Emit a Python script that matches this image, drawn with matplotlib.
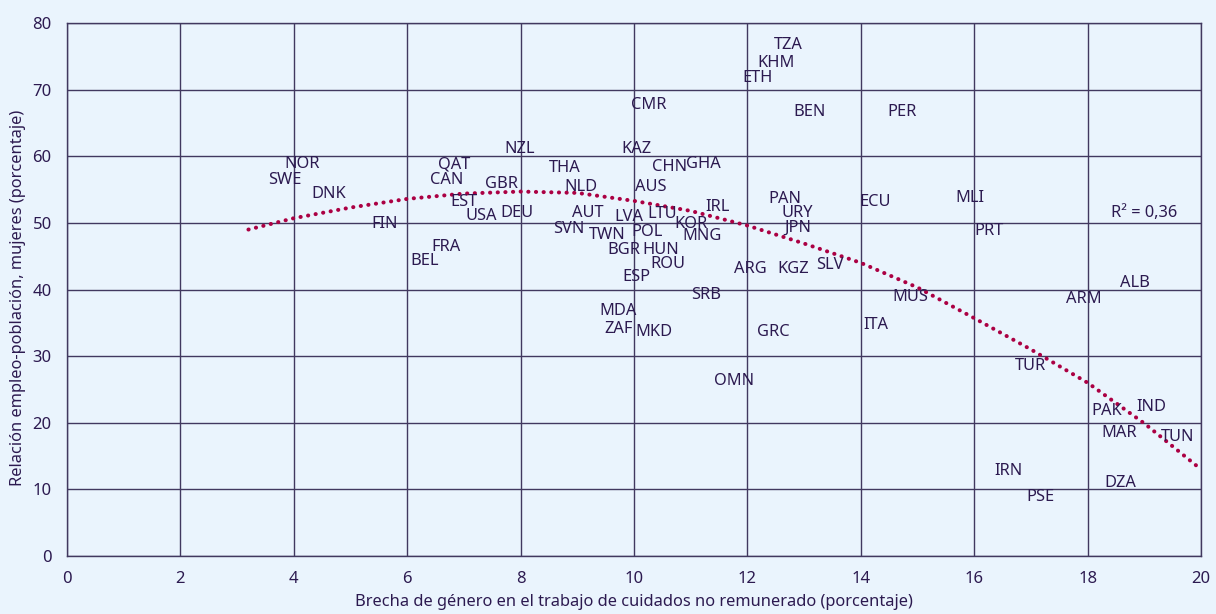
import matplotlib.pyplot as plt

plt.rcParams['font.family'] = ['Noto Sans', 'DejaVu Sans']

# country codes with unpaid care gap (x) and female employment-to-population ratio (y)
countries = ["NOR", "SWE", "DNK", "FIN", "QAT", "CAN", "EST", "USA", "GBR", "DEU",
             "FRA", "BEL", "NZL", "THA", "NLD", "AUT", "SVN", "TWN", "LVA", "LTU",
             "POL", "BGR", "HUN", "ROU", "ESP", "KAZ", "CMR", "CHN", "GHA", "AUS",
             "KOR", "MNG", "IRL", "TZA", "KHM", "ETH", "BEN", "PER", "PAN", "URY",
             "JPN", "ARG", "KGZ", "SLV", "SRB", "MDA", "ZAF", "MKD", "GRC", "OMN",
             "ECU", "MLI", "PRT", "MUS", "ITA", "ALB", "ARM", "TUR", "PAK", "IND",
             "MAR", "TUN", "IRN", "PSE", "DZA"]
gap = [4.14, 3.84, 4.62, 5.61, 6.83, 6.70, 7.00, 7.30, 7.67, 7.94,
       6.68, 6.31, 7.99, 8.78, 9.07, 9.19, 8.85, 9.52, 9.91, 10.49,
       10.23, 9.82, 10.48, 10.60, 10.05, 10.04, 10.26, 10.62, 11.23, 10.30,
       11.01, 11.20, 11.48, 12.72, 12.50, 12.17, 13.09, 14.73, 12.66, 12.87,
       12.89, 12.05, 12.80, 13.46, 11.27, 9.72, 9.72, 10.35, 12.45, 11.76,
       14.25, 15.93, 16.26, 14.87, 14.27, 18.84, 17.94, 17.00, 18.34, 19.12,
       18.55, 19.58, 16.60, 17.16, 18.57]
ratio = [58.8, 56.4, 54.3, 49.8, 58.8, 56.4, 53.1, 51.0, 55.8, 51.5,
         46.4, 44.3, 61.1, 58.2, 55.4, 51.5, 49.1, 48.2, 50.9, 51.3,
         48.6, 45.9, 45.9, 43.8, 41.9, 61.1, 67.7, 58.4, 58.8, 55.4,
         49.8, 48.0, 52.4, 76.7, 74.0, 71.7, 66.6, 66.6, 53.6, 51.5,
         49.2, 43.1, 43.1, 43.7, 39.2, 36.8, 34.1, 33.6, 33.6, 26.3,
         53.1, 53.7, 48.8, 38.9, 34.7, 41.0, 38.6, 28.5, 21.8, 22.4,
         18.5, 17.9, 12.8, 8.9, 11.0]

# trend curve
trend_x = [3.2, 4, 5, 6, 7, 8, 9, 10, 11, 12, 13, 14, 15, 16, 17, 18, 19, 20]
trend_y = [49.0, 50.7, 52.3, 53.6, 54.4, 54.7, 54.5, 53.3, 51.8, 49.6,
           46.9, 44.0, 40.3, 35.7, 31.0, 26.0, 19.9, 13.0]

bg = "#eaf4fd"
txt = "#2c1a50"
grid_c = "#41385f"

fig = plt.figure(figsize=(12.16, 6.14), dpi=100, facecolor=bg)
ax = fig.add_axes([0.0551, 0.0945, 0.9326, 0.868])
ax.set_facecolor(bg)

ax.plot(trend_x, trend_y, color="#ab0043", linewidth=2.9,
        linestyle=(0, (0.05, 1.85)), dash_capstyle="round", zorder=3)

for name, x, y in zip(countries, gap, ratio):
    ax.text(x, y, name, ha="center", va="center", fontsize=11.8, color=txt, zorder=4)

ax.text(19.0, 51.5, "R² = 0,36", ha="center", va="center", fontsize=11.8, color=txt)

ax.set_xlim(0, 20)
ax.set_ylim(0, 80)
ax.set_xticks(range(0, 21, 2))
ax.set_yticks(range(0, 81, 10))
ax.grid(True, color=grid_c, linewidth=1.0)
ax.set_axisbelow(True)
for s in ax.spines.values():
    s.set_color(grid_c)
    s.set_linewidth(1.0)
ax.tick_params(length=0, labelsize=12, labelcolor=txt, pad=11)

ax.set_xlabel("Brecha de género en el trabajo de cuidados no remunerado (porcentaje)",
              fontsize=11.8, color=txt, labelpad=5)
ax.set_ylabel("Relación empleo-población, mujeres (porcentaje)",
              fontsize=11.8, color=txt)
ax.yaxis.set_label_coords(-0.036, 0.484)

fig.savefig("out.png", dpi=100, facecolor=bg)
